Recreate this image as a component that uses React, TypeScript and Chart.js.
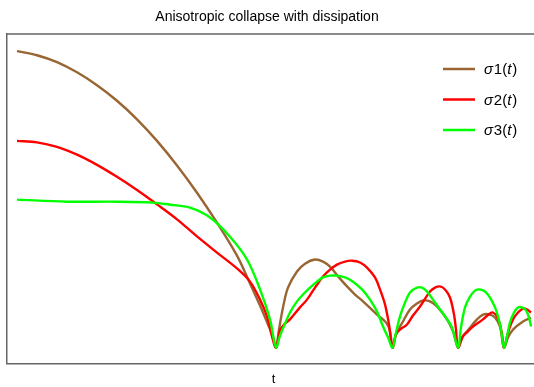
import React, { useEffect, useRef } from "react";
import { Chart, registerables } from "chart.js";

Chart.register(...registerables);

const TITLE = "Anisotropic collapse with dissipation";
const X_LABEL = "t";
const SERIES_NAMES = ["σ1", "σ2", "σ3"];
const COLORS = ["#996633", "#ff0000", "#00ff00"];

// σ1(t)
const t1 = [0.2, 0.6, 1.0, 1.4, 1.8, 2.2, 2.6, 3.0, 3.4, 3.8, 4.2, 4.6, 4.86, 5.06, 5.22, 5.3, 5.38,
  5.44, 5.52, 5.62, 5.8, 5.96, 6.16, 6.32, 6.46, 6.66, 6.8, 6.96, 7.12, 7.4, 7.58, 7.66, 7.71,
  7.78, 7.92, 8.06, 8.2, 8.32, 8.46, 8.6, 8.8, 8.92, 9.02,
  9.1, 9.2, 9.4, 9.52, 9.66, 9.76, 9.86, 9.94,
  10.02, 10.12, 10.32, 10.48];
const s1 = [10.43, 10.29, 10.06, 9.72, 9.29, 8.77, 8.15, 7.43, 6.61, 5.7, 4.7, 3.6, 2.67, 1.93, 1.3, 1.0, 0.53,
  1.13, 1.87, 2.53, 3.07, 3.33, 3.47, 3.4, 3.23, 2.83, 2.57, 2.3, 2.07, 1.63, 1.37, 1.07, 0.53,
  0.97, 1.4, 1.8, 2.0, 2.1, 2.07, 1.9, 1.47, 1.07, 0.53,
  0.87, 1.07, 1.47, 1.63, 1.63, 1.53, 1.23, 0.53,
  0.87, 1.13, 1.4, 1.53];

// σ2(t)
const t2 = [0.2, 0.6, 1.0, 1.4, 1.8, 2.2, 2.6, 3.0, 3.4, 3.8, 4.2, 4.6, 4.86, 5.06, 5.2, 5.3, 5.38,
  5.46, 5.56, 5.66, 5.86, 6.0, 6.16, 6.32, 6.46, 6.6, 6.76, 6.9, 7.06, 7.2, 7.36, 7.46, 7.56, 7.64, 7.71,
  7.78, 7.86, 8.0, 8.12, 8.26, 8.46, 8.56, 8.66, 8.76, 8.86, 8.94, 8.98, 9.02,
  9.12, 9.22, 9.32, 9.52, 9.66, 9.72, 9.8, 9.86, 9.9, 9.94,
  10.02, 10.12, 10.22, 10.32, 10.4, 10.48];
const s2 = [7.43, 7.38, 7.23, 6.97, 6.63, 6.23, 5.79, 5.31, 4.81, 4.24, 3.7, 3.17, 2.73, 2.13, 1.57, 0.9, 0.53,
  1.1, 1.33, 1.47, 1.87, 2.13, 2.53, 2.9, 3.13, 3.3, 3.4, 3.43, 3.37, 3.2, 2.87, 2.47, 1.97, 1.3, 0.53,
  0.97, 1.13, 1.3, 1.6, 1.9, 2.4, 2.53, 2.57, 2.47, 2.2, 1.63, 1.13, 0.53,
  0.9, 1.07, 1.23, 1.47, 1.67, 1.7, 1.57, 1.3, 0.97, 0.53,
  1.03, 1.47, 1.7, 1.83, 1.8, 1.7];

// σ3(t)
const t3 = [0.2, 1.2, 2.2, 2.92, 3.26, 3.66, 4.06, 4.46, 4.8, 5.06, 5.26, 5.38,
  5.46, 5.56, 5.66, 5.8, 5.92, 6.06, 6.2, 6.32, 6.46, 6.6, 6.76, 6.92, 7.1, 7.26, 7.4, 7.52, 7.62, 7.71,
  7.78, 7.86, 7.96, 8.06, 8.2, 8.3, 8.4, 8.52, 8.66, 8.78, 8.9, 9.02,
  9.08, 9.16, 9.26, 9.36, 9.46, 9.56, 9.66, 9.76, 9.82, 9.88, 9.94,
  10.0, 10.06, 10.14, 10.22, 10.3, 10.38, 10.44, 10.48];
const s3 = [5.47, 5.4, 5.4, 5.37, 5.3, 5.2, 4.87, 4.23, 3.47, 2.47, 1.47, 0.53,
  0.93, 1.33, 1.7, 2.07, 2.3, 2.53, 2.73, 2.87, 2.93, 2.93, 2.87, 2.73, 2.47, 2.13, 1.73, 1.23, 0.87, 0.53,
  1.03, 1.57, 2.03, 2.37, 2.53, 2.53, 2.4, 2.13, 1.8, 1.53, 1.2, 0.53,
  1.2, 1.87, 2.23, 2.43, 2.47, 2.4, 2.2, 1.87, 1.57, 1.13, 0.53,
  0.9, 1.37, 1.7, 1.87, 1.87, 1.77, 1.53, 1.23];

const X_MIN = 0;
const X_MAX = 10.66;
const Y_MIN = 0;
const Y_MAX = 11;

const FRAME = "#666666";
const FONT = '"Liberation Sans", Arial, sans-serif';
const PAGE_W = 534;

const toPoints = (ts: number[], vs: number[]) => ts.map((t, i) => ({ x: t, y: vs[i] }));

const framePlugin = {
  id: "frameTop",
  beforeDatasetsDraw(chart: any) {
    // keep the visible right edge of the plot open (no right frame)
    const { ctx, chartArea } = chart;
    ctx.save();
    ctx.fillStyle = "#fff";
    ctx.fillRect(PAGE_W - 2, chartArea.top + 1, 2, chartArea.bottom - chartArea.top - 2);
    ctx.restore();
  },
  afterDraw(chart: any) {
    const { ctx, chartArea } = chart;
    ctx.save();
    ctx.strokeStyle = FRAME;
    ctx.lineWidth = 1.5;
    ctx.beginPath();
    ctx.moveTo(chartArea.left - 0.75, chartArea.top);
    ctx.lineTo(chart.width, chartArea.top);
    ctx.stroke();
    ctx.fillStyle = "#000";
    ctx.font = `14px ${FONT}`;
    ctx.textAlign = "center";
    ctx.textBaseline = "middle";
    ctx.fillText(TITLE, PAGE_W / 2, 17);
    ctx.restore();
  },
};

const legendPlugin = {
  id: "mathLegend",
  afterDraw(chart: any) {
    const { ctx, chartArea } = chart;
    ctx.save();
    const x0 = chartArea.left + 436;
    const x1 = chartArea.left + 468;
    const tx = chartArea.left + 477;
    const rows = [35, 65.5, 96];
    SERIES_NAMES.forEach((name, i) => {
      const y = chartArea.top + rows[i];
      ctx.strokeStyle = COLORS[i];
      ctx.lineWidth = 2.5;
      ctx.beginPath();
      ctx.moveTo(x0, y);
      ctx.lineTo(x1, y);
      ctx.stroke();
      const parts = [
        { s: name.charAt(0), it: true },
        { s: name.slice(1), it: false },
        { s: "(", it: false },
        { s: "t", it: true },
        { s: ")", it: false },
      ];
      let x = tx;
      ctx.fillStyle = "#000";
      ctx.textBaseline = "middle";
      ctx.textAlign = "left";
      parts.forEach((p) => {
        ctx.font = `${p.it ? "italic " : ""}15px ${FONT}`;
        ctx.fillText(p.s, x, y + 1);
        x += ctx.measureText(p.s).width + (p.it ? 0.8 : 0);
      });
    });
    ctx.restore();
  },
};

export default function App() {
  const ref = useRef<HTMLCanvasElement | null>(null);

  useEffect(() => {
    if (!ref.current) return;
    const mk = (label: string, ts: number[], vs: number[], color: string, order: number) => ({
      label,
      data: toPoints(ts, vs),
      borderColor: color,
      backgroundColor: color,
      borderWidth: 2.4,
      pointRadius: 0,
      tension: 0.35,
      fill: false,
      order,
    });
    const chart = new Chart(ref.current, {
      type: "line",
      data: {
        datasets: [
          mk(SERIES_NAMES[0] + "(t)", t1, s1, COLORS[0], 2),
          mk(SERIES_NAMES[1] + "(t)", t2, s2, COLORS[1], 1),
          mk(SERIES_NAMES[2] + "(t)", t3, s3, COLORS[2], 0),
        ],
      },
      options: {
        animation: false,
        responsive: false,
        maintainAspectRatio: false,
        layout: { padding: { left: 7, right: 4, top: 34, bottom: 0 } },
        plugins: {
          legend: { display: false },
          tooltip: { enabled: false },
          title: { display: false },
        },
        scales: {
          x: {
            type: "linear",
            min: X_MIN,
            max: X_MAX,
            ticks: { display: false },
            grid: { display: false, drawTicks: false },
            border: { display: true, color: FRAME, width: 1.5 },
            title: {
              display: true,
              text: X_LABEL,
              color: "#000",
              font: { family: FONT, size: 13 },
              padding: { top: 8, bottom: 0 },
            },
          },
          y: {
            type: "linear",
            min: Y_MIN,
            max: Y_MAX,
            ticks: { display: false },
            grid: { display: false, drawTicks: false },
            border: { display: true, color: FRAME, width: 1.5 },
          },
        },
      },
      plugins: [framePlugin, legendPlugin],
    });
    return () => chart.destroy();
  }, []);

  return (
    <div
      style={{
        position: "absolute",
        left: 0,
        top: 0,
        width: PAGE_W,
        height: 387,
        overflow: "hidden",
        background: "#fff",
      }}
    >
      <canvas ref={ref} width={544} height={387} style={{ display: "block" }} />
    </div>
  );
}
